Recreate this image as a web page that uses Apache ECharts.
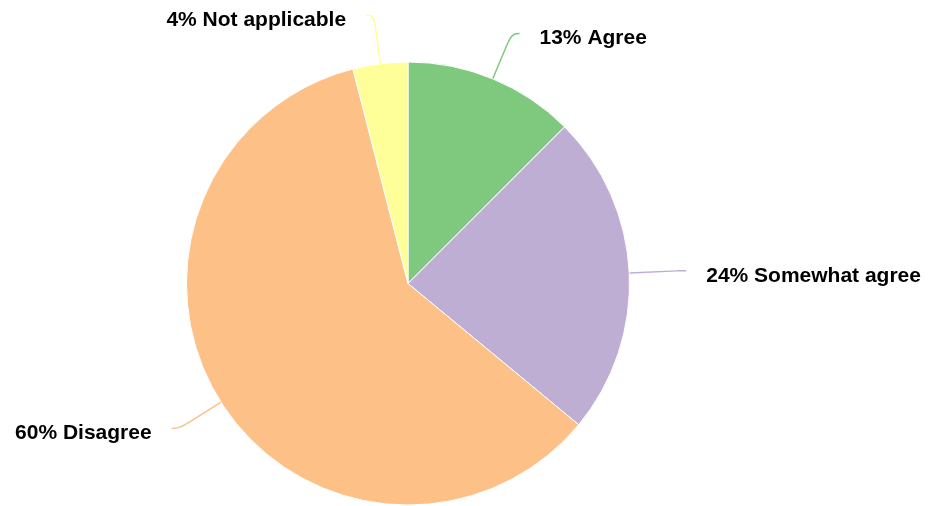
<!DOCTYPE html>
<html>
<head>
<meta charset="utf-8">
<script src="https://cdn.jsdelivr.net/npm/echarts@6/dist/echarts.min.js"></script>
<style>
html,body{margin:0;padding:0;background:#fff;}
#chart{width:930px;height:506px;}
</style>
</head>
<body>
<div id="chart"></div>
<script>
// Data
var categories = ["Agree", "Somewhat agree", "Disagree", "Not applicable"];
var shares = [12.5, 23.5, 60.0, 4.0];          // slice sizes (share of respondents)
var percentLabels = ["13%", "24%", "60%", "4%"]; // percentages as printed
var colors = ["#7fc97f", "#beaed4", "#fdc086", "#ffff99"];

var data = categories.map(function (c, i) {
  return {
    name: c,
    value: shares[i],
    itemStyle: { color: colors[i] },
    labelLine: { lineStyle: { color: colors[i] } }
  };
});

var chart = echarts.init(document.getElementById('chart'), null, { renderer: 'canvas' });
chart.setOption({
  backgroundColor: '#ffffff',
  animation: false,
  series: [{
    type: 'pie',
    center: [408, 283.5],
    radius: [0, 221.5],
    startAngle: 90,
    clockwise: true,
    avoidLabelOverlap: false,
    data: data,
    itemStyle: { borderColor: '#ffffff', borderWidth: 1 },
    label: {
      show: true,
      position: 'outside',
      formatter: function (p) { return percentLabels[p.dataIndex] + ' ' + p.name; },
      fontFamily: '"Liberation Sans", Arial, sans-serif',
      fontWeight: 'bold',
      fontSize: 21,
      color: '#000000',
      distanceToLabelLine: 20,
      width: 260,
      overflow: 'none'
    },
    labelLine: {
      show: true,
      length: 49,
      length2: 8,
      smooth: 0.5,
      lineStyle: { width: 1.5 }
    },
    labelLayout: function (params) {
      return { dy: 5, labelLinePoints: params.labelLinePoints };
    },
    emphasis: { disabled: true }
  }]
});
</script>
</body>
</html>
